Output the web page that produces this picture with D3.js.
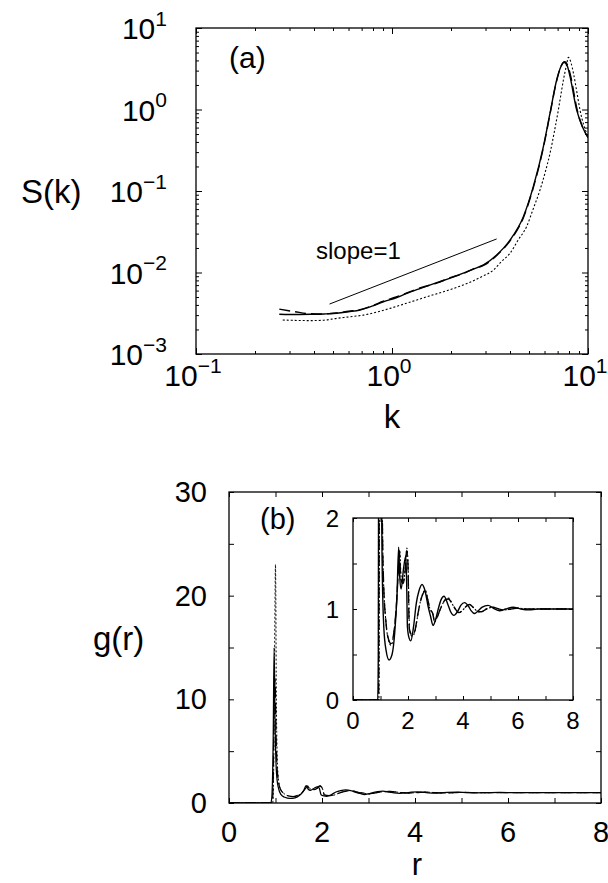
<!DOCTYPE html>
<html><head><meta charset="utf-8">
<script src="https://cdn.jsdelivr.net/npm/d3@7"></script>
<style>
html,body{margin:0;padding:0;background:#fff;}
svg{display:block;font-family:"Liberation Sans",Arial,Helvetica,sans-serif;}
</style>
</head><body>
<svg id="c" width="608" height="883"></svg>
<script>
// ---------------- DATA: panel (a) S(k) ----------------
const kSolid = [0.266,0.30,0.382,0.45,0.522,0.60,0.687,0.80,0.904,1.05,1.19,1.40,1.69,2.0,2.31,2.6,2.93,3.42,4.0,4.68,5.26,5.92,6.4,6.92,7.25,7.55,7.85,8.1,8.75,9.4,10];
const sSolid = [3.07e-3,3.05e-3,3.07e-3,3.1e-3,3.16e-3,3.3e-3,3.47e-3,3.9e-3,4.38e-3,4.9e-3,5.55e-3,6.4e-3,7.5e-3,8.6e-3,9.8e-3,0.011,0.0124,0.0164,0.025,0.0484,0.113,0.35,0.90,2.3,3.3,3.8,3.4,2.53,0.99,0.6,0.45];
const kDashed = [0.266,0.32,0.38,0.45,0.522,0.60,0.687,0.80,0.904,1.05,1.19,1.40,1.69,2.0,2.31,2.6,2.93,3.42,4.0,4.68,5.26,5.92,6.4,6.92,7.25,7.6,7.9,8.15,8.8,9.4,10];
const sDashed = [3.55e-3,3.3e-3,3.12e-3,3.1e-3,3.18e-3,3.35e-3,3.5e-3,3.95e-3,4.45e-3,5.0e-3,5.6e-3,6.5e-3,7.4e-3,8.7e-3,9.7e-3,0.0111,0.0122,0.0162,0.0245,0.047,0.11,0.34,0.88,2.25,3.3,3.85,3.4,2.6,1.0,0.6,0.46];
const kDotted = [0.277,0.33,0.382,0.45,0.522,0.6,0.714,0.85,0.977,1.15,1.34,1.55,1.83,2.15,2.5,2.9,3.29,3.6,4.0,4.4,4.86,5.25,5.69,6.05,6.4,6.75,7.06,7.3,7.49,7.75,7.94,8.2,8.43,8.75,9.1,9.5,9.85];
const sDotted = [2.61e-3,2.58e-3,2.57e-3,2.6e-3,2.74e-3,2.85e-3,3.0e-3,3.3e-3,3.63e-3,4.1e-3,4.6e-3,5.15e-3,5.8e-3,6.6e-3,7.6e-3,9.0e-3,0.0107,0.0135,0.0172,0.025,0.0365,0.06,0.103,0.17,0.29,0.55,0.99,1.6,2.3,3.4,4.36,3.7,2.78,1.7,0.99,0.65,0.51];
const slopeK = [0.48,3.42];
const slopeS = [4.1e-3,0.0258];
const kMajor = [0.1,1,10];
const kExp = ["\u22121","0","1"];
const sMajor = [1e-3,1e-2,1e-1,1,10];
const sExp = ["\u22123","\u22122","\u22121","0","1"];

// ---------------- DATA: panel (b) g(r) ----------------
const rSolid = [0,0.90,0.92,0.95,0.97,0.99,1.02,1.06,1.12,1.2,1.31,1.42,1.52,1.60,1.66,1.70,1.75,1.84,1.92,1.95,1.98,2.04,2.1,2.2,2.3,2.4,2.51,2.62,2.73,2.82,2.91,3.0,3.1,3.2,3.31,3.45,3.55,3.67,3.8,3.92,4.06,4.2,4.3,4.42,4.55,4.7,4.91,5.1,5.33,5.55,5.82,6.1,6.4,6.7,7.0,7.4,8.0];
const gSolid = [0,0,0.5,6,15,8,3,1.5,0.8,0.55,0.44,0.5,0.75,1.15,1.68,1.35,1.22,1.45,1.58,1.3,0.8,0.68,0.65,0.8,1.06,1.2,1.27,1.2,1.03,0.92,0.82,0.88,1.0,1.1,1.14,1.05,0.97,0.93,0.97,1.04,1.07,1.03,0.98,0.95,0.98,1.02,1.04,1.01,0.98,1.0,1.02,1.0,0.99,1.0,1.0,1.0,1.0];
const rDashed = [0,0.93,0.95,0.97,0.99,1.01,1.04,1.1,1.2,1.3,1.38,1.48,1.58,1.65,1.69,1.74,1.82,1.9,1.95,1.99,2.05,2.15,2.25,2.35,2.45,2.55,2.62,2.72,2.8,2.9,2.96,3.05,3.15,3.25,3.35,3.47,3.6,3.72,3.85,4.0,4.12,4.23,4.4,4.55,4.67,4.85,5.08,5.3,5.5,5.75,6.0,6.3,6.6,7.0,7.5,8.0];
const gDashed = [0,0,2,9,12,7,3,1.4,0.85,0.66,0.62,0.73,1.05,1.42,1.62,1.33,1.28,1.43,1.64,1.55,0.78,0.71,0.76,0.93,1.08,1.17,1.2,1.1,1.0,0.95,0.87,0.9,0.98,1.05,1.1,1.11,1.06,1.0,0.96,0.99,1.03,1.05,1.01,0.97,0.97,1.0,1.02,1.0,0.99,1.0,1.01,1.0,1.0,1.0,1.0,1.0];
const rDotted = [0,0.94,0.96,0.98,1.0,1.02,1.05,1.1,1.2,1.3,1.38,1.48,1.58,1.65,1.70,1.75,1.82,1.9,1.96,2.0,2.06,2.15,2.25,2.35,2.45,2.55,2.63,2.72,2.8,2.9,2.97,3.05,3.15,3.25,3.35,3.48,3.6,3.72,3.85,4.0,4.12,4.24,4.4,4.55,4.67,4.85,5.09,5.3,5.5,5.75,6.0,6.3,6.6,7.0,7.5,8.0];
const gDotted = [0,0,3,14,23,9,3,1.4,0.85,0.65,0.6,0.72,1.05,1.45,1.65,1.35,1.3,1.45,1.67,1.5,0.76,0.7,0.75,0.92,1.08,1.18,1.21,1.1,1.0,0.95,0.86,0.9,0.98,1.05,1.1,1.12,1.06,1.0,0.96,0.99,1.03,1.05,1.01,0.97,0.97,1.0,1.02,1.0,0.99,1.0,1.01,1.0,1.0,1.0,1.0,1.0];
const rTickLabels = ["0","2","4","6","8"];
const gTickLabels = ["0","10","20","30"];
const insetYLabels = ["0","1","2"];

// ---------------- DRAWING ----------------
const svg = d3.select("#c");

function ticks(g, axis, tr){
  const a = g.append("g").attr("transform", tr).call(axis);
  a.select(".domain").remove();
  a.selectAll(".tick line").attr("stroke","#000").attr("stroke-width",1);
  a.selectAll(".tick text").remove();
  return a;
}
function frame(g, x0,y0,x1,y1, fill){
  g.append("rect").attr("x",x0).attr("y",y0).attr("width",x1-x0).attr("height",y1-y0)
   .attr("fill",fill||"none").attr("stroke","#000").attr("stroke-width",1.3);
}
function powLabel(g, x, y, exp, anchor, fs){
  const t = g.append("text").attr("x",x).attr("y",y).attr("text-anchor",anchor)
    .attr("font-size",fs).attr("fill","#000");
  t.append("tspan").text("10");
  t.append("tspan").attr("dy",-fs*0.45).attr("font-size",fs*0.7).text(exp);
  return t;
}
function styleFor(s){
  if(s==="dashed") return {dash:"11,5", w:1.4, c:"#000"};
  if(s==="dotted") return {dash:"2,2", w:1.1, c:"#000"};
  return {dash:null, w:1.4, c:"#000"};
}

// ---- Panel (a) ----
const xk = d3.scaleLog().domain([0.1,10]).range([196,588]);
const yS = d3.scaleLog().domain([1e-3,10]).range([354,28]);
const ga = svg.append("g");
ga.append("clipPath").attr("id","clipA").append("rect")
  .attr("x",196).attr("y",28).attr("width",392).attr("height",326);

const kMinor = [], sMinor = [];
[0.1,1].forEach(d=>{ for(let m=2;m<=9;m++) kMinor.push(d*m); });
[1e-3,1e-2,1e-1,1].forEach(d=>{ for(let m=2;m<=9;m++) sMinor.push(d*m); });

ticks(ga, d3.axisBottom(xk).tickValues(kMajor).tickSize(-6).tickFormat(""), "translate(0,354)");
ticks(ga, d3.axisBottom(xk).tickValues(kMinor).tickSize(-3).tickFormat(""), "translate(0,354)");
ticks(ga, d3.axisTop(xk).tickValues(kMajor).tickSize(-6).tickFormat(""), "translate(0,28)");
ticks(ga, d3.axisTop(xk).tickValues(kMinor).tickSize(-3).tickFormat(""), "translate(0,28)");
ticks(ga, d3.axisLeft(yS).tickValues(sMajor).tickSize(-6).tickFormat(""), "translate(196,0)");
ticks(ga, d3.axisLeft(yS).tickValues(sMinor).tickSize(-3).tickFormat(""), "translate(196,0)");
ticks(ga, d3.axisRight(yS).tickValues(sMajor).tickSize(-6).tickFormat(""), "translate(588,0)");
ticks(ga, d3.axisRight(yS).tickValues(sMinor).tickSize(-3).tickFormat(""), "translate(588,0)");
frame(ga,196,28,588,354);

const lineA = d3.line().x(d=>xk(d[0])).y(d=>yS(d[1])).curve(d3.curveMonotoneX);
const seriesA = [
  {k:kDotted, s:sDotted, st:"dotted"},
  {k:kDashed, s:sDashed, st:"dashed"},
  {k:kSolid, s:sSolid, st:"solid"}
];
const ca = ga.append("g").attr("clip-path","url(#clipA)");
seriesA.forEach(S=>{
  const st = styleFor(S.st);
  ca.append("path").attr("d", lineA(d3.zip(S.k,S.s)))
    .attr("fill","none").attr("stroke",st.c).attr("stroke-width",st.w)
    .attr("stroke-dasharray",st.dash);
});
ca.append("path").attr("d", d3.line().x(d=>xk(d[0])).y(d=>yS(d[1]))(d3.zip(slopeK,slopeS)))
  .attr("fill","none").attr("stroke","#000").attr("stroke-width",1);

kMajor.forEach((v,i)=> powLabel(ga, xk(v)-3, 386, kExp[i], "middle", 30));
sMajor.forEach((v,i)=> powLabel(ga, 167, yS(v)+11, sExp[i], "end", 30));
ga.append("text").attr("x",229).attr("y",68).attr("font-size",30).text("(a)");
ga.append("text").attr("x",316).attr("y",259).attr("font-size",24).text("slope=1");
ga.append("text").attr("x",392).attr("y",428).attr("text-anchor","middle").attr("font-size",33).text("k");
ga.append("text").attr("x",21).attr("y",203).attr("font-size",33).text("S(k)");

// ---- Panel (b) ----
const xr = d3.scaleLinear().domain([0,8]).range([229,601]);
const yg = d3.scaleLinear().domain([0,30]).range([803,492]);
const gb = svg.append("g");
gb.append("clipPath").attr("id","clipB").append("rect")
  .attr("x",229).attr("y",492).attr("width",372).attr("height",311);
const rTicks = d3.range(0,9,1);
const gTicks = d3.range(0,31,5);
ticks(gb, d3.axisBottom(xr).tickValues(rTicks).tickSize(-5).tickFormat(""), "translate(0,803)");
ticks(gb, d3.axisTop(xr).tickValues(rTicks).tickSize(-5).tickFormat(""), "translate(0,492)");
ticks(gb, d3.axisLeft(yg).tickValues(gTicks).tickSize(-5).tickFormat(""), "translate(229,0)");
ticks(gb, d3.axisRight(yg).tickValues(gTicks).tickSize(-5).tickFormat(""), "translate(601,0)");
frame(gb,229,492,601,803);

const seriesB = [
  {r:rDotted, g:gDotted, st:"dotted"},
  {r:rDashed, g:gDashed, st:"dashed"},
  {r:rSolid, g:gSolid, st:"solid"}
];
const lineB = d3.line().x(d=>xr(d[0])).y(d=>yg(d[1])).curve(d3.curveMonotoneX);
const cb = gb.append("g").attr("clip-path","url(#clipB)");
seriesB.forEach(S=>{
  const st = styleFor(S.st);
  cb.append("path").attr("d", lineB(d3.zip(S.r,S.g)))
    .attr("fill","none").attr("stroke",st.c).attr("stroke-width",st.w*0.9)
    .attr("stroke-dasharray",st.dash);
});
rTickLabels.forEach(t=> gb.append("text").attr("x",xr(+t)).attr("y",842)
  .attr("text-anchor","middle").attr("font-size",29).text(t));
gTickLabels.forEach(t=> gb.append("text").attr("x",207).attr("y",yg(+t)+10)
  .attr("text-anchor","end").attr("font-size",29).text(t));
gb.append("text").attr("x",260).attr("y",529).attr("font-size",29).text("(b)");
gb.append("text").attr("x",417).attr("y",875).attr("text-anchor","middle").attr("font-size",31).text("r");
gb.append("text").attr("x",93).attr("y",650).attr("font-size",33).text("g(r)");

// ---- Inset ----
const xi = d3.scaleLinear().domain([0,8]).range([353,573]);
const yi = d3.scaleLinear().domain([0,2]).range([700,518]);
const gi = svg.append("g");
gi.append("rect").attr("x",353).attr("y",518).attr("width",220).attr("height",182).attr("fill","#fff");
gi.append("clipPath").attr("id","clipI").append("rect")
  .attr("x",353).attr("y",518).attr("width",220).attr("height",182);
const iyTicks = d3.range(0,2.01,0.5);
ticks(gi, d3.axisBottom(xi).tickValues(rTicks).tickSize(-4).tickFormat(""), "translate(0,700)");
ticks(gi, d3.axisTop(xi).tickValues(rTicks).tickSize(-4).tickFormat(""), "translate(0,518)");
ticks(gi, d3.axisLeft(yi).tickValues(iyTicks).tickSize(-4).tickFormat(""), "translate(353,0)");
ticks(gi, d3.axisRight(yi).tickValues(iyTicks).tickSize(-4).tickFormat(""), "translate(573,0)");
const lineI = d3.line().x(d=>xi(d[0])).y(d=>yi(d[1])).curve(d3.curveMonotoneX);
const ci = gi.append("g").attr("clip-path","url(#clipI)");
seriesB.forEach(S=>{
  const st = styleFor(S.st);
  ci.append("path").attr("d", lineI(d3.zip(S.r,S.g)))
    .attr("fill","none").attr("stroke",st.c).attr("stroke-width",st.w)
    .attr("stroke-dasharray",st.dash);
});
frame(gi,353,518,573,700);
rTickLabels.forEach(t=> gi.append("text").attr("x",xi(+t)).attr("y",729)
  .attr("text-anchor","middle").attr("font-size",24).text(t));
insetYLabels.forEach(t=> gi.append("text").attr("x",339).attr("y",yi(+t)+9)
  .attr("text-anchor","end").attr("font-size",24).text(t));
</script>
</body></html>
